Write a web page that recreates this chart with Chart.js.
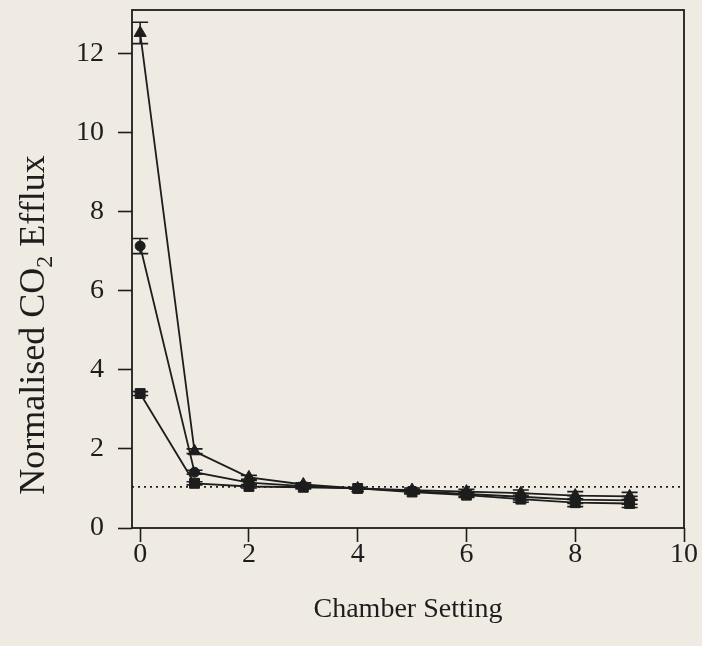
<!DOCTYPE html>
<html>
<head>
<meta charset="utf-8">
<title>Normalised CO2 Efflux</title>
<script src="https://cdn.jsdelivr.net/npm/chart.js@4/dist/chart.umd.min.js"></script>
<style>
  html, body { margin: 0; padding: 0; background: #efebe2; }
  #wrap { width: 702px; height: 646px; }
</style>
</head>
<body>
<div id="wrap"><canvas id="efflux" width="702" height="646"></canvas></div>
<script>
const chamberSetting = [0, 1, 2, 3, 4, 5, 6, 7, 8, 9];

const triangleVals = [12.52, 1.94, 1.28, 1.10, 1.00, 0.96, 0.92, 0.88, 0.82, 0.80];
const triangleErr  = [0.27, 0.06, 0.05, 0.04, 0.02, 0.05, 0.06, 0.08, 0.10, 0.10];

const circleVals = [7.13, 1.41, 1.15, 1.06, 1.00, 0.93, 0.86, 0.79, 0.72, 0.70];
const circleErr  = [0.19, 0.05, 0.05, 0.04, 0.02, 0.05, 0.06, 0.08, 0.10, 0.10];

const squareVals = [3.40, 1.13, 1.05, 1.03, 1.00, 0.91, 0.83, 0.73, 0.64, 0.62];
const squareErr  = [0.05, 0.04, 0.04, 0.04, 0.02, 0.05, 0.06, 0.08, 0.10, 0.10];

const refLevel = 1.04;
const xTicks = [0, 2, 4, 6, 8, 10];
const yTicks = [0, 2, 4, 6, 8, 10, 12];

const ink = '#1d1d1d';
const serif = '"Liberation Serif", "Times New Roman", serif';

const pts = (vals) => vals.map((v, i) => ({ x: chamberSetting[i], y: v }));

// frame, error bars and the two axis titles
const extras = {
  id: 'extras',
  afterDatasetsDraw(chart) {
    const { ctx, chartArea: a, scales: { x, y } } = chart;
    ctx.save();
    ctx.strokeStyle = ink;
    ctx.lineWidth = 1.8;
    ctx.strokeRect(a.left, a.top, a.right - a.left, a.bottom - a.top);

    ctx.lineWidth = 1.6;
    chart.data.datasets.forEach((ds) => {
      if (!ds.errors) return;
      ds.data.forEach((p, i) => {
        const px = x.getPixelForValue(p.x);
        const hi = y.getPixelForValue(p.y + ds.errors[i]);
        const lo = y.getPixelForValue(p.y - ds.errors[i]);
        ctx.beginPath();
        ctx.moveTo(px, hi); ctx.lineTo(px, lo);
        ctx.moveTo(px - 8, hi); ctx.lineTo(px + 8, hi);
        ctx.moveTo(px - 8, lo); ctx.lineTo(px + 8, lo);
        ctx.stroke();
      });
    });
    ctx.restore();
  },
  afterDraw(chart) {
    const { ctx, chartArea: a } = chart;
    ctx.save();
    ctx.fillStyle = ink;
    ctx.textBaseline = 'alphabetic';

    // x title
    ctx.font = '28px ' + serif;
    ctx.textAlign = 'center';
    ctx.fillText('Chamber Setting', (a.left + a.right) / 2, 617);

    // y title with subscript 2
    const big = '36px ' + serif, small = '24px ' + serif;
    ctx.font = big;
    const w1 = ctx.measureText('Normalised CO').width;
    const w3 = ctx.measureText(' Efflux').width;
    ctx.font = small;
    const w2 = ctx.measureText('2').width;
    const total = w1 + w2 + w3;
    ctx.translate(44, 325);
    ctx.rotate(-Math.PI / 2);
    ctx.textAlign = 'left';
    let cx = -total / 2;
    ctx.font = big;
    ctx.fillText('Normalised CO', cx, 0);
    cx += w1;
    ctx.font = small;
    ctx.fillText('2', cx, 8);
    cx += w2;
    ctx.font = big;
    ctx.fillText(' Efflux', cx, 0);
    ctx.restore();
  }
};

const lineSet = (vals, errs, style, radius) => ({
  data: pts(vals),
  errors: errs,
  showLine: true,
  borderColor: ink,
  borderWidth: 1.8,
  backgroundColor: ink,
  pointStyle: style,
  pointRadius: radius,
  pointHoverRadius: radius,
  pointBorderWidth: 1,
  pointBorderColor: ink,
  pointBackgroundColor: ink
});

new Chart(document.getElementById('efflux'), {
  type: 'scatter',
  data: {
    datasets: [
      {
        data: [{ x: -0.15, y: refLevel }, { x: 10, y: refLevel }],
        showLine: true,
        borderColor: ink,
        borderWidth: 1.6,
        borderDash: [2, 4],
        pointRadius: 0
      },
      lineSet(squareVals, squareErr, 'rect', 7),
      lineSet(circleVals, circleErr, 'circle', 5),
      lineSet(triangleVals, triangleErr, 'triangle', 7)
    ]
  },
  options: {
    responsive: false,
    animation: false,
    layout: { padding: { top: 10, right: 18, left: 0, bottom: 0 } },
    plugins: {
      legend: { display: false },
      tooltip: { enabled: false }
    },
    scales: {
      x: {
        type: 'linear',
        min: -0.15,
        max: 10,
        afterBuildTicks: (s) => { s.ticks = xTicks.map(v => ({ value: v })); },
        afterFit: (s) => { s.height = 118; s.paddingLeft = 0; s.paddingRight = 0; },
        grid: { drawOnChartArea: false, tickLength: 14, tickWidth: 1.6, color: ink },
        border: { display: false },
        ticks: { color: ink, padding: -4, font: { family: serif, size: 28 } }
      },
      y: {
        type: 'linear',
        min: 0,
        max: 13.1,
        afterBuildTicks: (s) => { s.ticks = yTicks.map(v => ({ value: v })); },
        afterFit: (s) => { s.width = 132; s.paddingTop = 0; s.paddingBottom = 0; },
        grid: { drawOnChartArea: false, tickLength: 14, tickWidth: 1.6, color: ink },
        border: { display: false },
        ticks: { color: ink, padding: 14, font: { family: serif, size: 28 } }
      }
    }
  },
  plugins: [extras]
});
</script>
</body>
</html>
